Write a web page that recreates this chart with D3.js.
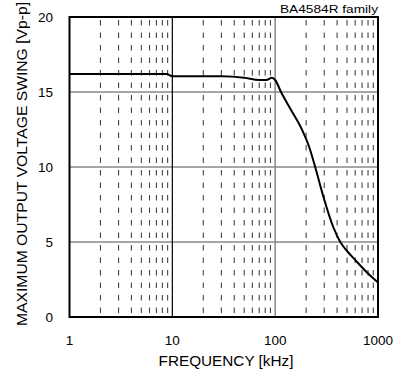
<!DOCTYPE html>
<html><head><meta charset="utf-8">
<script src="https://cdn.jsdelivr.net/npm/d3@7"></script>
<style>body{margin:0;background:#fff}text{font-family:"Liberation Sans",Arial,sans-serif}</style>
</head><body><svg id="c" width="406" height="372"></svg>
<script>
const freq = [1, 8.8, 10, 30, 50, 70, 82, 93, 100, 114, 140, 182, 215, 245, 295, 367, 430, 500, 600, 800, 1000];
const swing = [16.2, 16.2, 16.05, 16.05, 15.95, 15.8, 15.8, 15.95, 15.8, 15.0, 13.9, 12.5, 11.3, 10.0, 8.0, 6.0, 5.0, 4.4, 3.8, 2.9, 2.3];
const xTicks = [1, 10, 100, 1000];
const yTicks = [0, 5, 10, 15, 20];
const title = "BA4584R  family";
const xLabel = "FREQUENCY [kHz]";
const yLabel = "MAXIMUM OUTPUT VOLTAGE SWING [Vp-p]";

const svg = d3.select("#c");
const L = 69.5, R = 378, T = 17, B = 317;
const x = d3.scaleLog().domain([1, 1000]).range([L, R]);
const y = d3.scaleLinear().domain([0, 20]).range([B, T]);

// minor dashed verticals
const minors = [];
for (let d = 1; d < 1000; d *= 10) for (let k = 2; k <= 9; k++) minors.push(d * k);
svg.append("g").selectAll("line").data(minors).join("line")
  .attr("x1", d => x(d)).attr("x2", d => x(d)).attr("y1", T + 1).attr("y2", B)
  .attr("stroke", "#444").attr("stroke-width", 1.1).attr("stroke-dasharray", "5.5,7")
  .attr("stroke-dashoffset", -2);

// horizontal gridlines
svg.append("g").selectAll("line").data([5, 10, 15]).join("line")
  .attr("x1", L).attr("x2", R).attr("y1", d => y(d)).attr("y2", d => y(d))
  .attr("stroke", "#888").attr("stroke-width", 1.5);

// major verticals
svg.append("line").attr("x1", x(10)).attr("x2", x(10)).attr("y1", T).attr("y2", B).attr("stroke", "#000").attr("stroke-width", 1.2);
svg.append("line").attr("x1", x(100)).attr("x2", x(100)).attr("y1", T).attr("y2", B).attr("stroke", "#888").attr("stroke-width", 1.5);

// border
svg.append("rect").attr("x", L).attr("y", T).attr("width", R - L).attr("height", B - T)
  .attr("fill", "none").attr("stroke", "#000").attr("stroke-width", 2);

// curve
svg.append("path").datum(swing)
  .attr("d", d3.line().x((d, i) => x(freq[i])).y(d => y(d)).curve(d3.curveMonotoneX))
  .attr("fill", "none").attr("stroke", "#000").attr("stroke-width", 2);

// y tick labels
svg.append("g").selectAll("text").data(yTicks).join("text")
  .attr("x", 53).attr("y", d => y(d)).attr("dy", "0.35em").attr("text-anchor", "end")
  .attr("font-size", 13.5).text(d => d);
// x tick labels
svg.append("g").selectAll("text").data(xTicks).join("text")
  .attr("x", d => x(d)).attr("y", 340).attr("dy", "0.35em").attr("text-anchor", "middle")
  .attr("font-size", 13.5).text(d => d);

svg.append("text").attr("x", 226).attr("y", 366).attr("text-anchor", "middle")
  .attr("font-size", 15.3).text(xLabel);
svg.append("text").attr("transform", "translate(27,326) rotate(-90)").attr("text-anchor", "start")
  .attr("font-size", 15.5).attr("textLength", 324).attr("lengthAdjust", "spacingAndGlyphs").text(yLabel);
svg.append("text").attr("x", 378).attr("y", 13).attr("text-anchor", "end")
  .attr("font-size", 11).attr("textLength", 98).attr("lengthAdjust", "spacingAndGlyphs").text(title);
</script></body></html>
